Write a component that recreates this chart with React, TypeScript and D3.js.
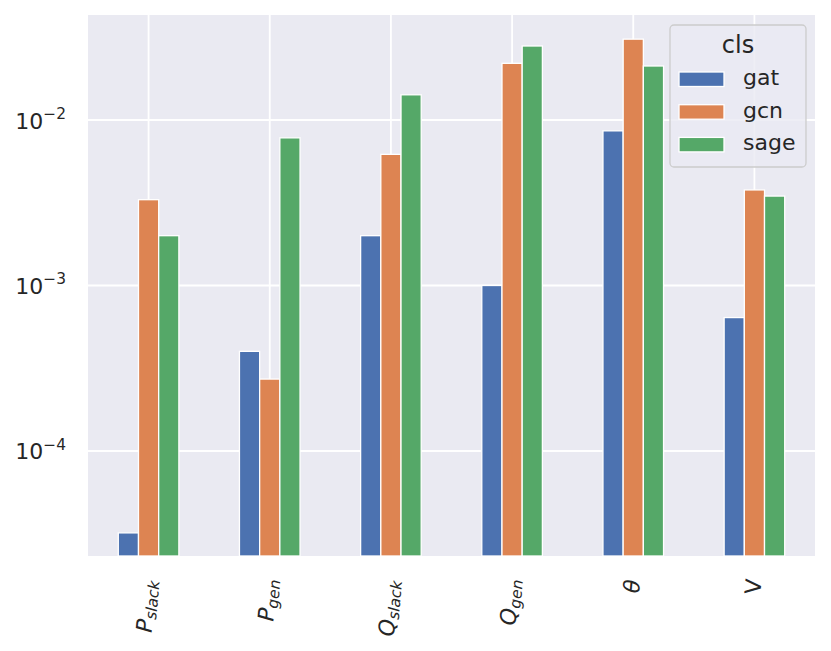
import React, { useRef, useEffect } from 'react';
import * as d3 from 'd3';

// categories (mathtext labels: main symbol + subscript)
const categories = ['Pslack', 'Pgen', 'Qslack', 'Qgen', 'theta', 'V'];
const catMain = ['P', 'P', 'Q', 'Q', 'θ', 'V'];
const catSub = ['slack', 'gen', 'slack', 'gen', '', ''];
const catItalic = [true, true, true, true, true, false];

const seriesNames = ['gat', 'gcn', 'sage'];
const gatValues = [3.2e-5, 4.0e-4, 2.0e-3, 1.0e-3, 8.6e-3, 6.4e-4];
const gcnValues = [3.3e-3, 2.72e-4, 6.2e-3, 2.2e-2, 3.08e-2, 3.78e-3];
const sageValues = [2.0e-3, 7.8e-3, 1.42e-2, 2.8e-2, 2.12e-2, 3.47e-3];

const yTicks = [1e-4, 1e-3, 1e-2];
const yTickExp = ['−4', '−3', '−2'];
const yLimits = [2.32e-5, 4.31e-2];

const colors = ['#4c72b0', '#dd8452', '#55a868'];

const W = 831;
const H = 651;
const FONT = '"DejaVu Sans", sans-serif';

const App: React.FC = () => {
  const svgRef = useRef<SVGSVGElement>(null);

  useEffect(() => {
    if (!svgRef.current) return;
    const svg = d3.select(svgRef.current);
    svg.selectAll('*').remove();

    const left = 88, right = 815, top = 15, bottom = 556;
    const allSeries = [gatValues, gcnValues, sageValues];

    const x = d3.scaleBand<string>()
      .domain(categories)
      .range([left, right])
      .paddingInner(0.5)
      .paddingOuter(0.25);
    const xi = d3.scaleBand<string>()
      .domain(seriesNames)
      .range([0, x.bandwidth()])
      .padding(0);
    const y = d3.scaleLog().domain(yLimits).range([bottom, top]);

    // background
    svg.append('rect')
      .attr('x', left).attr('y', top)
      .attr('width', right - left).attr('height', bottom - top)
      .attr('fill', '#eaeaf2');

    // grid
    svg.append('g').selectAll('line')
      .data(categories)
      .join('line')
      .attr('x1', d => x(d)! + x.bandwidth() / 2)
      .attr('x2', d => x(d)! + x.bandwidth() / 2)
      .attr('y1', top).attr('y2', bottom)
      .attr('stroke', '#fff').attr('stroke-width', 1.8);
    svg.append('g').selectAll('line')
      .data(yTicks)
      .join('line')
      .attr('x1', left).attr('x2', right)
      .attr('y1', d => y(d)).attr('y2', d => y(d))
      .attr('stroke', '#fff').attr('stroke-width', 1.8);

    // bars
    allSeries.forEach((vals, si) => {
      svg.append('g').selectAll('rect')
        .data(vals)
        .join('rect')
        .attr('x', (_, i) => x(categories[i])! + xi(seriesNames[si])!)
        .attr('width', xi.bandwidth())
        .attr('y', d => y(d))
        .attr('height', d => bottom - y(d))
        .attr('fill', colors[si])
        .attr('stroke', '#fff')
        .attr('stroke-width', 1.3);
    });

    // y tick labels
    yTicks.forEach((t, i) => {
      const txt = svg.append('text')
        .attr('x', 66).attr('y', y(t) + 8.5)
        .attr('text-anchor', 'end')
        .attr('font-family', FONT)
        .attr('font-size', 22)
        .attr('fill', '#262626')
        .text('10');
      txt.append('tspan')
        .attr('dy', -9.5)
        .attr('font-size', 15.4)
        .text(yTickExp[i]);
    });

    // x tick labels, rotated
    categories.forEach((c, i) => {
      const cx = x(c)! + x.bandwidth() / 2;
      const g = svg.append('g');
      const txt = g.append('text')
        .attr('text-anchor', 'end')
        .attr('font-family', FONT)
        .attr('font-size', 22)
        .attr('fill', '#262626')
        .attr('transform', 'rotate(-85)');
      txt.append('tspan')
        .attr('font-style', catItalic[i] ? 'italic' : 'normal')
        .text(catMain[i]);
      if (catSub[i]) {
        txt.append('tspan')
          .attr('dy', 3.5)
          .attr('font-size', 15.4)
          .attr('font-style', 'italic')
          .text(catSub[i]);
      }
      const box = (g.node() as SVGGElement).getBBox();
      const bx = box.x + box.width / 2;
      g.attr('transform', `translate(${cx - 1 - bx},${578 - box.y})`);
    });

    // legend
    const lg = svg.append('g');
    lg.append('rect')
      .attr('x', 670).attr('y', 25)
      .attr('width', 136).attr('height', 142)
      .attr('rx', 4)
      .attr('fill', '#eaeaf2').attr('fill-opacity', 0.8)
      .attr('stroke', '#cccccc').attr('stroke-width', 1.3);
    lg.append('text')
      .attr('x', 738).attr('y', 53)
      .attr('text-anchor', 'middle')
      .attr('font-family', FONT)
      .attr('font-size', 24)
      .attr('fill', '#262626')
      .text('cls');
    seriesNames.forEach((s, i) => {
      const yy = 72 + i * 32.7;
      lg.append('rect')
        .attr('x', 679).attr('y', yy)
        .attr('width', 45).attr('height', 14.5)
        .attr('fill', colors[i])
        .attr('stroke', '#fff').attr('stroke-width', 1.3);
      lg.append('text')
        .attr('x', 743).attr('y', yy + 13)
        .attr('font-family', FONT)
        .attr('font-size', 22)
        .attr('fill', '#262626')
        .text(s);
    });
  }, []);

  return (
    <svg
      ref={svgRef}
      width={W}
      height={H}
      style={{ position: 'absolute', left: 0, top: 0, background: '#ffffff' }}
    />
  );
};

export default App;
